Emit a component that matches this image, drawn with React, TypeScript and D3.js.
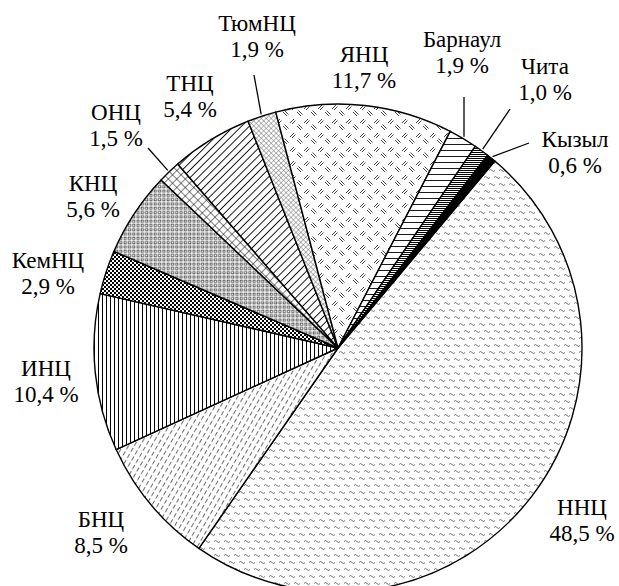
import React from 'react';
import * as d3 from 'd3';

// доли научных центров, %
const names = ['ННЦ', 'БНЦ', 'ИНЦ', 'КемНЦ', 'КНЦ', 'ОНЦ', 'ТНЦ', 'ТюмНЦ', 'ЯНЦ', 'Барнаул', 'Чита', 'Кызыл'];
const shares = [48.5, 8.5, 10.4, 2.9, 5.6, 1.5, 5.4, 1.9, 11.7, 1.9, 1.0, 0.6];
const patterns = ['p-nnc', 'p-bnc', 'p-inc', 'p-kem', 'p-knc', 'p-onc', 'p-tnc', 'p-tum', 'p-ync', 'p-barn', 'p-chita', 'p-kyz'];

// label layout: [x, baseline of first line, leader end x, leader end y] (null = no leader)
const labelLayout: [number, number, number | null, number | null][] = [
  [582, 515, null, null],
  [101, 527, null, null],
  [46, 376, null, null],
  [48, 268, null, null],
  [93, 191, null, null],
  [116, 120, 148, 148],
  [190, 91, null, null],
  [257, 31, 254, 75],
  [364, 62, null, null],
  [462, 47, 464, 97],
  [545, 74, 510, 109],
  [575, 147, 529, 143],
];

const W = 619;
const H = 586;
const cx = 338;
const cy = 348;
const R = 244;
const startDeg = 40;

const fmt = (v: number) => v.toFixed(1).replace('.', ',') + ' %';
const textStyle = { fontFamily: '"Liberation Serif"', fontSize: '23px' };

const Patterns = () => (
  <defs>
    <pattern id="p-nnc" patternUnits="userSpaceOnUse" width="10" height="14">
      <rect width="10" height="14" fill="#fff" />
      <path d="M1,4.5 q1.5,-2 3,0 t3,0" fill="none" stroke="#555" strokeWidth="0.8" />
      <path d="M-4,11.5 q1.5,-2 3,0 t3,0 M6,11.5 q1.5,-2 3,0 t3,0" fill="none" stroke="#555" strokeWidth="0.8" />
    </pattern>
    <pattern id="p-bnc" patternUnits="userSpaceOnUse" width="5" height="7" patternTransform="rotate(30)">
      <rect width="5" height="7" fill="#fff" />
      <line x1="2.5" y1="0" x2="2.5" y2="4.5" stroke="#444" strokeWidth="0.8" />
    </pattern>
    <pattern id="p-inc" patternUnits="userSpaceOnUse" width="4" height="4">
      <rect width="4" height="4" fill="#fff" />
      <line x1="0.5" y1="0" x2="0.5" y2="4" stroke="#000" strokeWidth="1" />
    </pattern>
    <pattern id="p-kem" patternUnits="userSpaceOnUse" width="4" height="4">
      <rect width="4" height="4" fill="#fff" />
      <rect width="2" height="2" fill="#000" />
      <rect x="2" y="2" width="2" height="2" fill="#000" />
    </pattern>
    <pattern id="p-knc" patternUnits="userSpaceOnUse" width="4.3" height="4.3">
      <rect width="4.3" height="4.3" fill="#fff" />
      <rect x="1" y="1" width="2.3" height="2.3" fill="none" stroke="#444" strokeWidth="0.8" />
    </pattern>
    <pattern id="p-onc" patternUnits="userSpaceOnUse" width="6" height="6" patternTransform="rotate(45)">
      <rect width="6" height="6" fill="#fff" />
      <path d="M0,0 V6 M0,0 H6" stroke="#000" strokeWidth="1" />
    </pattern>
    <pattern id="p-tnc" patternUnits="userSpaceOnUse" width="5.5" height="5.5" patternTransform="rotate(45)">
      <rect width="5.5" height="5.5" fill="#fff" />
      <line x1="0.5" y1="0" x2="0.5" y2="5.5" stroke="#000" strokeWidth="0.9" />
    </pattern>
    <pattern id="p-tum" patternUnits="userSpaceOnUse" width="3.5" height="3.5" patternTransform="rotate(45)">
      <rect width="3.5" height="3.5" fill="#fff" />
      <path d="M0,0 V3.5 M0,0 H3.5" stroke="#555" strokeWidth="0.8" />
    </pattern>
    <pattern id="p-ync" patternUnits="userSpaceOnUse" width="14" height="14">
      <rect width="14" height="14" fill="#fff" />
      <path d="M1,2 l4,4 M2.5,0.5 l4,4" stroke="#333" strokeWidth="0.9" />
      <path d="M8,13 l4,-4 M9.5,14.5 l4,-4" stroke="#333" strokeWidth="0.9" />
    </pattern>
    <pattern id="p-barn" patternUnits="userSpaceOnUse" width="6" height="6">
      <rect width="6" height="6" fill="#fff" />
      <line x1="0" y1="0.5" x2="6" y2="0.5" stroke="#000" strokeWidth="0.9" />
    </pattern>
    <pattern id="p-chita" patternUnits="userSpaceOnUse" width="2" height="2">
      <rect width="2" height="2" fill="#fff" />
      <rect y="0" width="2" height="1" fill="#000" />
    </pattern>
    <pattern id="p-kyz" patternUnits="userSpaceOnUse" width="2" height="2">
      <rect width="2" height="2" fill="#000" />
    </pattern>
  </defs>
);

export default function App() {
  const start = (startDeg * Math.PI) / 180;
  const pie = d3.pie<number>().sort(null).value(d => d).startAngle(start).endAngle(start + 2 * Math.PI);
  const arcs = pie(shares);
  const arc = d3.arc<d3.PieArcDatum<number>>().innerRadius(0).outerRadius(R);

  return (
    <svg width={W} height={H} style={{ position: 'absolute', left: 0, top: 0, background: '#fff' }}>
      <Patterns />
      <g transform={`translate(${cx},${cy})`}>
        {arcs.map((a, i) => (
          <path key={names[i]} d={arc(a) || ''} fill={`url(#${patterns[i]})`} stroke="#000" strokeWidth={1.4} strokeLinejoin="round" />
        ))}
      </g>
      <g textAnchor="middle" fill="#000">
        {arcs.map((a, i) => {
          const [lx, ly, ex, ey] = labelLayout[i];
          const mid = (a.startAngle + a.endAngle) / 2;
          const px = cx + (R + 2) * Math.sin(mid);
          const py = cy - (R + 2) * Math.cos(mid);
          return (
            <g key={names[i]}>
              {ex !== null && ey !== null && (
                <line x1={px} y1={py} x2={ex} y2={ey} stroke="#000" strokeWidth={1.3} />
              )}
              <text x={lx} y={ly} style={textStyle}>{names[i]}</text>
              <text x={lx} y={ly + 26} style={textStyle}>{fmt(shares[i])}</text>
            </g>
          );
        })}
      </g>
    </svg>
  );
}
